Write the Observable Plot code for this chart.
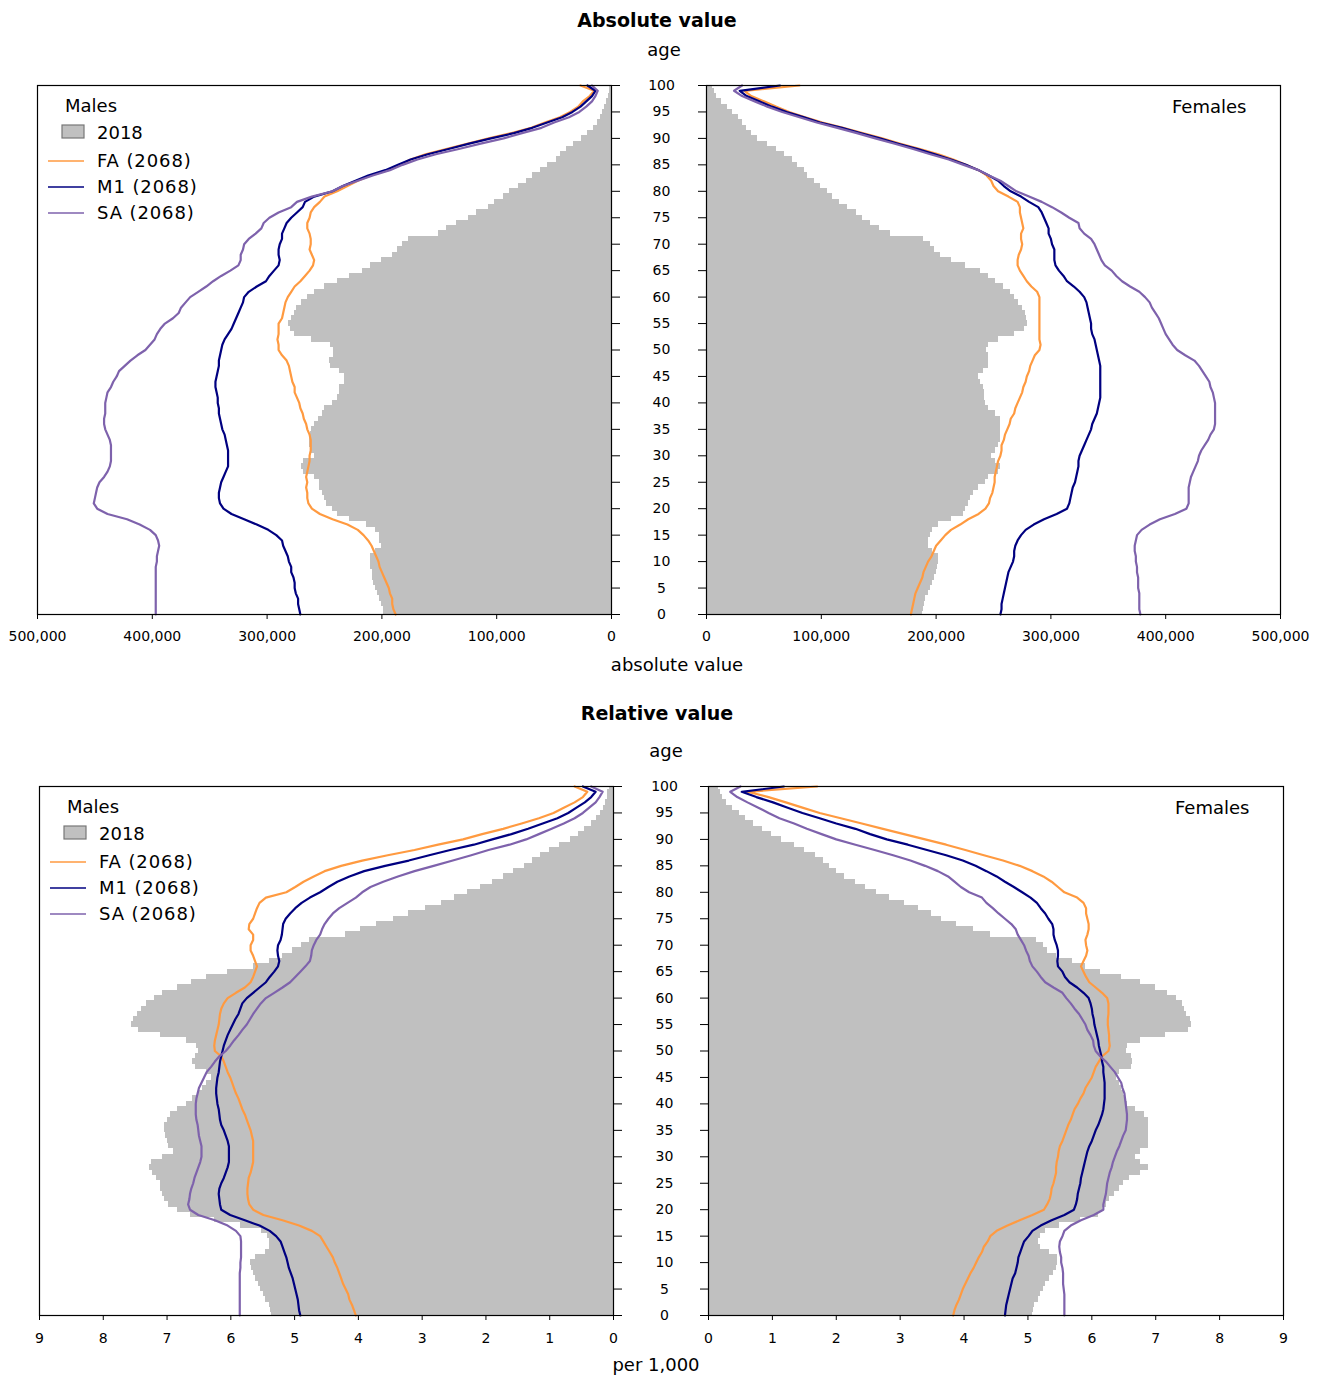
<!DOCTYPE html>
<html><head><meta charset="utf-8">
<script src="https://cdn.jsdelivr.net/npm/d3@7"></script>
<script src="https://cdn.jsdelivr.net/npm/@observablehq/plot@0.6"></script>
<style>
body{margin:0;background:#fff;}
#root{position:relative;width:1321px;height:1378px;font-family:'DejaVu Sans',Verdana,sans-serif;}
.panel{position:absolute;}
#overlay{position:absolute;left:0;top:0;pointer-events:none;}
</style></head>
<body><div id="root"></div>
<script>
// ---------- categories & ticks ----------
const ages = [0,1,2,3,4,5,6,7,8,9,10,11,12,13,14,15,16,17,18,19,20,21,22,23,24,25,26,27,28,29,30,31,32,33,34,35,36,37,38,39,40,41,42,43,44,45,46,47,48,49,50,51,52,53,54,55,56,57,58,59,60,61,62,63,64,65,66,67,68,69,70,71,72,73,74,75,76,77,78,79,80,81,82,83,84,85,86,87,88,89,90,91,92,93,94,95,96,97,98,99,100];
const ageTicks = [0,5,10,15,20,25,30,35,40,45,50,55,60,65,70,75,80,85,90,95,100];
const absTicks = [0,100,200,300,400,500]; // thousands
const absTickLabels = ["0","100,000","200,000","300,000","400,000","500,000"];
const relTicks = [0,1,2,3,4,5,6,7,8,9];
const relTickLabels = ["0","1","2","3","4","5","6","7","8","9"];

// ---------- absolute values (thousands), age 0..100 ----------
const males2018Abs = [199,199,200,202,204,206,207,208,208,210,210,210,206,200,202,202,206,213,228,239,243,248,250,252,254,254,259,268,270,268,259,261,263,263,262,261,259,255,252,250,243,239,237,237,233,233,237,245,246,242,242,245,261,276,280,281,279,276,274,270,265,259,250,239,228,217,210,200,191,186,182,177,151,144,135,125,118,107,102,94,89,81,74,69,62,56,48,44,39,33,26,21,16,12,10,8,6,4.4,3,2,2];
const malesFAAbs = [188,190,191,191,193,194,196,198,200,202,203,205,207,209,212,216,221,230,243,254,261,264,265,265,266,265,266,265,264,263,263,262,262,262,263,265,266,268,269,271,272,274,276,276,278,279,280,281,283,287,290,290,291,290,290,290,287,286,285,284,282,279,276,271,267,263,260,259,261,263,262,262,263,265,265,263,262,259,254,250,239,230,221,210,195,184,175,162,144,125,107,87,70,58,45,36,29,25,19,15,27];
const malesM1Abs = [271,272,273,273,275,276,276,277,279,279,281,282,284,286,287,292,299,309,320,331,338,341,342,342,341,340,338,336,334,334,334,334,335,336,337,339,340,341,342,342,343,343,344,345,345,344,343,342,342,341,340,339,337,334,331,329,327,325,323,321,320,316,309,301,298,294,290,289,290,290,289,287,287,285,283,279,274,269,267,259,243,234,223,212,197,186,175,160,142,124,105,85,69,56,43,34,27,22,17,14,21];
const malesSAAbs = [397,397,397,397,397,397,397,397,397,397,396,396,395,394,395,397,402,411,422,439,448,451,450,449,448,446,442,439,437,436,436,436,436,437,439,441,442,442,441,441,441,440,439,436,434,431,429,424,419,413,406,402,398,396,393,389,382,377,375,371,367,360,353,347,340,332,325,323,323,321,320,316,310,305,303,298,290,279,274,261,243,234,221,208,193,182,169,153,133,114,94,78,61,50,37,28,22,17,14,12,17];
const females2018Abs = [188,189,190,191,193,195,197,199,200,201,202,202,197,193,193,195,197,202,213,224,226,228,230,233,237,243,246,254,256,252,248,252,254,256,256,256,256,256,252,246,243,242,242,241,239,237,241,246,246,246,244,246,254,268,277,280,279,278,275,272,268,265,259,252,246,239,226,213,204,199,195,189,160,151,143,136,131,123,116,110,105,99,94,88,85,79,75,68,61,53,44,39,35,31,28,23,18,13,9,6.6,5.5];
const femalesFAAbs = [178,179,180,181,182,184,186,188,189,191,193,196,198,200,204,208,213,221,228,237,243,246,247,249,250,251,251,252,253,254,256,257,257,259,260,262,264,265,268,269,271,273,275,276,278,279,281,282,284,286,290,291,290,290,290,290,290,290,290,290,290,288,283,279,276,273,271,271,272,274,275,274,274,276,275,274,273,273,271,263,254,250,248,244,237,226,215,202,186,169,153,136,119,101,86,72,61,50,39,33,81];
const femalesM1Abs = [256,257,257,258,259,260,261,262,263,265,267,268,268,269,271,274,278,285,294,305,314,316,317,318,319,321,322,323,324,324,325,327,329,331,333,335,336,338,340,341,342,343,343,343,343,343,343,343,342,341,340,339,338,336,335,335,334,333,332,331,329,325,320,314,311,307,304,303,303,303,301,300,298,298,296,294,292,289,281,274,265,259,254,246,237,226,213,199,184,167,151,134,118,99,85,70,57,46,35,29,64];
const femalesSAAbs = [378,377,377,377,377,376,376,376,375,375,374,374,373,373,374,375,379,386,395,408,418,420,420,420,420,421,422,424,426,428,429,431,434,437,439,442,443,443,443,443,443,442,441,439,438,435,432,429,425,417,410,406,403,400,398,396,394,391,388,386,382,377,369,362,357,353,347,344,342,340,338,335,329,325,324,316,309,301,292,281,270,263,256,246,237,224,211,195,180,164,147,131,114,96,81,66,53,42,31,24,31];

// ---------- relative values (per 1,000), age 0..100 ----------
const males2018Rel = [5.36,5.38,5.40,5.45,5.49,5.53,5.57,5.62,5.65,5.67,5.69,5.62,5.45,5.39,5.39,5.42,5.52,5.85,6.25,6.64,6.84,6.97,7.04,7.07,7.10,7.10,7.17,7.23,7.27,7.25,7.07,6.90,6.97,7.00,7.02,7.04,7.04,7.00,6.94,6.84,6.70,6.60,6.51,6.44,6.38,6.31,6.38,6.56,6.60,6.56,6.50,6.54,6.70,7.10,7.45,7.56,7.53,7.46,7.40,7.33,7.20,7.07,6.84,6.61,6.38,6.05,5.65,5.39,5.19,5.03,4.89,4.76,4.20,3.97,3.71,3.45,3.21,2.95,2.69,2.49,2.29,2.09,1.90,1.73,1.57,1.40,1.27,1.14,1.00,0.84,0.68,0.55,0.45,0.35,0.26,0.20,0.15,0.12,0.10,0.09,0.07];
const malesFARel = [4.04,4.07,4.10,4.14,4.16,4.20,4.24,4.27,4.30,4.33,4.37,4.40,4.45,4.50,4.55,4.60,4.73,4.93,5.19,5.49,5.65,5.71,5.73,5.74,5.74,5.73,5.72,5.69,5.67,5.65,5.65,5.65,5.65,5.65,5.67,5.69,5.72,5.75,5.78,5.82,5.85,5.88,5.92,5.95,5.98,6.01,6.05,6.08,6.11,6.15,6.25,6.26,6.25,6.23,6.21,6.19,6.18,6.17,6.15,6.11,6.05,5.92,5.78,5.69,5.65,5.62,5.59,5.62,5.65,5.69,5.69,5.65,5.65,5.72,5.71,5.65,5.62,5.59,5.55,5.45,5.13,4.99,4.86,4.70,4.53,4.27,3.94,3.54,3.12,2.75,2.36,2.06,1.73,1.44,1.17,0.94,0.78,0.61,0.48,0.41,0.61];
const malesM1Rel = [4.91,4.93,4.94,4.95,4.97,4.99,5.01,5.03,5.06,5.09,5.11,5.13,5.16,5.19,5.22,5.29,5.39,5.55,5.78,6.01,6.15,6.17,6.18,6.19,6.18,6.15,6.11,6.08,6.05,6.03,6.03,6.03,6.03,6.05,6.08,6.11,6.15,6.17,6.18,6.19,6.21,6.22,6.23,6.23,6.22,6.21,6.19,6.18,6.17,6.15,6.13,6.11,6.08,6.05,6.01,5.97,5.93,5.88,5.85,5.82,5.75,5.65,5.55,5.45,5.39,5.32,5.26,5.24,5.26,5.27,5.26,5.22,5.20,5.19,5.18,5.14,5.07,4.99,4.89,4.76,4.60,4.47,4.33,4.14,3.91,3.58,3.21,2.89,2.56,2.19,1.90,1.60,1.34,1.11,0.88,0.71,0.58,0.45,0.35,0.28,0.48];
const malesSARel = [5.86,5.86,5.86,5.86,5.86,5.86,5.86,5.86,5.86,5.85,5.85,5.84,5.84,5.84,5.84,5.85,5.92,6.05,6.25,6.51,6.64,6.67,6.65,6.64,6.62,6.59,6.57,6.54,6.51,6.48,6.46,6.46,6.46,6.48,6.50,6.51,6.52,6.54,6.55,6.55,6.55,6.54,6.52,6.50,6.46,6.42,6.38,6.31,6.25,6.18,6.08,6.01,5.95,5.88,5.82,5.75,5.70,5.65,5.59,5.53,5.45,5.32,5.19,5.07,4.99,4.91,4.83,4.76,4.74,4.73,4.70,4.66,4.60,4.57,4.53,4.47,4.40,4.30,4.17,4.04,3.94,3.81,3.61,3.38,3.12,2.82,2.52,2.23,1.96,1.63,1.37,1.17,0.97,0.78,0.61,0.48,0.38,0.28,0.22,0.17,0.35];
const females2018Rel = [5.07,5.08,5.11,5.16,5.20,5.24,5.27,5.34,5.40,5.44,5.47,5.47,5.34,5.20,5.17,5.20,5.27,5.50,5.83,6.10,6.16,6.23,6.28,6.35,6.43,6.49,6.59,6.76,6.88,6.76,6.69,6.76,6.88,6.89,6.89,6.89,6.89,6.89,6.82,6.69,6.56,6.53,6.49,6.46,6.43,6.39,6.43,6.62,6.64,6.62,6.55,6.56,6.76,7.15,7.52,7.56,7.54,7.48,7.45,7.42,7.32,7.19,6.99,6.76,6.46,6.13,5.90,5.70,5.44,5.30,5.24,5.14,4.41,4.15,3.88,3.65,3.49,3.29,3.06,2.83,2.63,2.46,2.30,2.13,2.00,1.90,1.80,1.67,1.51,1.34,1.14,0.98,0.85,0.71,0.58,0.48,0.38,0.28,0.22,0.18,0.15];
const femalesFARel = [3.83,3.85,3.88,3.92,3.95,3.98,4.02,4.06,4.10,4.15,4.19,4.23,4.28,4.31,4.37,4.41,4.51,4.68,4.87,5.07,5.25,5.30,5.34,5.36,5.37,5.40,5.42,5.44,5.44,5.45,5.47,5.48,5.50,5.54,5.57,5.60,5.63,5.67,5.70,5.73,5.78,5.82,5.87,5.90,5.95,6.00,6.03,6.06,6.11,6.16,6.26,6.28,6.27,6.27,6.26,6.25,6.25,6.26,6.26,6.26,6.24,6.16,6.06,5.96,5.91,5.87,5.83,5.87,5.91,5.93,5.91,5.90,5.93,5.95,5.95,5.93,5.91,5.91,5.87,5.77,5.57,5.47,5.37,5.24,5.07,4.87,4.61,4.31,4.02,3.72,3.39,3.06,2.73,2.40,2.07,1.74,1.47,1.21,0.94,0.61,1.70];
const femalesM1Rel = [4.64,4.65,4.66,4.68,4.70,4.72,4.74,4.76,4.80,4.82,4.84,4.85,4.88,4.91,4.94,5.01,5.07,5.20,5.37,5.57,5.72,5.75,5.77,5.78,5.80,5.82,5.83,5.85,5.87,5.89,5.91,5.93,5.96,6.00,6.03,6.06,6.10,6.13,6.16,6.18,6.19,6.20,6.20,6.20,6.20,6.19,6.18,6.18,6.16,6.15,6.13,6.11,6.10,6.08,6.06,6.04,6.03,6.01,6.00,5.98,5.95,5.87,5.77,5.65,5.58,5.54,5.47,5.46,5.47,5.47,5.45,5.42,5.40,5.40,5.38,5.32,5.27,5.20,5.14,5.04,4.91,4.78,4.64,4.51,4.35,4.18,3.98,3.72,3.42,3.12,2.79,2.53,2.30,2.00,1.74,1.47,1.24,1.01,0.75,0.52,1.18];
const femalesSARel = [5.57,5.57,5.57,5.57,5.57,5.56,5.55,5.55,5.55,5.54,5.52,5.52,5.50,5.49,5.50,5.54,5.57,5.67,5.83,6.03,6.18,6.18,6.20,6.22,6.23,6.24,6.26,6.28,6.31,6.33,6.36,6.39,6.43,6.46,6.49,6.53,6.54,6.55,6.55,6.54,6.53,6.52,6.51,6.48,6.46,6.41,6.36,6.29,6.22,6.13,6.06,6.03,6.02,5.98,5.93,5.90,5.85,5.80,5.73,5.67,5.60,5.54,5.40,5.27,5.20,5.14,5.07,5.03,5.01,4.97,4.94,4.89,4.84,4.81,4.74,4.64,4.54,4.45,4.35,4.28,4.08,3.95,3.85,3.75,3.59,3.39,3.16,2.89,2.60,2.30,2.00,1.77,1.54,1.34,1.11,0.94,0.78,0.61,0.45,0.34,0.50];

// ---------- styling ----------
const GRAY = "#c0c0c0", ORANGE = "#ff9a40", NAVY = "#000080", PURPLE = "#7e62ac";
const root = document.getElementById("root");

function table(base, fa, m1, sa) {
  return ages.map((age, i) => ({age, base: base[i], FA: fa[i], M1: m1[i], SA: sa[i]}));
}

function panel({rows, reverse, domain, xTicks, xLabels, width, mL, mR, labels, agePad, left, top, tickPad}) {
  const chart = Plot.plot({
    width, height: 584,
    marginLeft: mL, marginRight: mR, marginTop: 15, marginBottom: 40,
    style: {fontFamily: "'DejaVu Sans', Verdana, sans-serif", fontSize: "14px", background: "transparent", overflow: "visible"},
    x: {domain, reverse, label: null},
    y: {domain: [0, 100], label: null},
    marks: [
      Plot.rectX(rows, {x: "base", y1: d => d.age - 0.5, y2: d => d.age + 0.5, fill: GRAY, shapeRendering: "crispEdges", clip: true}),
      Plot.line(rows, {x: "FA", y: "age", stroke: ORANGE, strokeWidth: 2.2}),
      Plot.line(rows, {x: "M1", y: "age", stroke: NAVY, strokeWidth: 2.2}),
      Plot.line(rows, {x: "SA", y: "age", stroke: PURPLE, strokeWidth: 2.2}),
      Plot.axisX({ticks: xTicks, tickFormat: d => xLabels[xTicks.indexOf(d)], tickSize: 5, tickPadding: tickPad, stroke: "#000", fill: "#000"}),
      labels
        ? Plot.axisY({anchor: "right", ticks: ageTicks, tickSize: 8, tickPadding: agePad, textAnchor: "middle", fill: "#000"})
        : Plot.axisY({anchor: "left", ticks: ageTicks, tickSize: 8, tickFormat: () => ""}),
      Plot.frame({stroke: "#000", strokeWidth: 1.2})
    ]
  });
  chart.classList.add("panel");
  chart.style.left = left + "px";
  chart.style.top = top + "px";
  root.appendChild(chart);
}

// Absolute
panel({rows: table(males2018Abs, malesFAAbs, malesM1Abs, malesSAAbs), reverse: true, domain: [0, 500],
  xTicks: absTicks, xLabels: absTickLabels, width: 700, mL: 37, mR: 89, labels: true, agePad: 42, left: 0, top: 70, tickPad: 12});
panel({rows: table(females2018Abs, femalesFAAbs, femalesM1Abs, femalesSAAbs), reverse: false, domain: [0, 500],
  xTicks: absTicks, xLabels: absTickLabels, width: 641, mL: 26, mR: 41, labels: false, left: 680, top: 70, tickPad: 12});
// Relative
panel({rows: table(males2018Rel, malesFARel, malesM1Rel, malesSARel), reverse: true, domain: [0, 9],
  xTicks: relTicks, xLabels: relTickLabels, width: 700, mL: 39, mR: 87, labels: true, agePad: 43, left: 0, top: 771, tickPad: 13});
panel({rows: table(females2018Rel, femalesFARel, femalesM1Rel, femalesSARel), reverse: false, domain: [0, 9],
  xTicks: relTicks, xLabels: relTickLabels, width: 641, mL: 28, mR: 38, labels: false, left: 680, top: 771, tickPad: 13});

// ---------- titles, axis titles, legends ----------
const NS = "http://www.w3.org/2000/svg";
const ov = document.createElementNS(NS, "svg");
ov.setAttribute("id", "overlay");
ov.setAttribute("width", 1321); ov.setAttribute("height", 1378);
ov.style.fontFamily = "'DejaVu Sans', Verdana, sans-serif";
root.appendChild(ov);
function txt(s, x, y, size, opts = {}) {
  const t = document.createElementNS(NS, "text");
  t.setAttribute("x", x); t.setAttribute("y", y);
  t.setAttribute("font-size", size);
  t.setAttribute("fill", "#000");
  if (opts.anchor) t.setAttribute("text-anchor", opts.anchor);
  if (opts.bold) t.setAttribute("font-weight", "bold");
  if (opts.spacing) t.setAttribute("letter-spacing", opts.spacing);
  t.textContent = s; ov.appendChild(t);
}
function line(x1, x2, y, color) {
  const l = document.createElementNS(NS, "line");
  l.setAttribute("x1", x1); l.setAttribute("x2", x2); l.setAttribute("y1", y); l.setAttribute("y2", y);
  l.setAttribute("stroke", color); l.setAttribute("stroke-width", 1.6); ov.appendChild(l);
}
function box(x, y, w, h) {
  const r = document.createElementNS(NS, "rect");
  r.setAttribute("x", x); r.setAttribute("y", y); r.setAttribute("width", w); r.setAttribute("height", h);
  r.setAttribute("fill", GRAY); r.setAttribute("stroke", "#777"); r.setAttribute("stroke-width", 1.2); ov.appendChild(r);
}
txt("Absolute value", 657, 27, 19, {anchor: "middle", bold: true});
txt("age", 664, 56, 18, {anchor: "middle"});
txt("absolute value", 677, 671, 18, {anchor: "middle"});
txt("Relative value", 657, 720, 19, {anchor: "middle", bold: true});
txt("age", 666, 757, 18, {anchor: "middle"});
txt("per 1,000", 656, 1371, 18, {anchor: "middle"});

const seriesNames = ["FA (2068)", "M1 (2068)", "SA (2068)"];
const seriesColors = [ORANGE, NAVY, PURPLE];
function legend(x0, yMales, sex) {
  txt(sex, x0 + 3, yMales, 18);
  box(x0, yMales + 13, 22, 13);
  txt("2018", x0 + 35, yMales + 27, 18);
  seriesNames.forEach((s, i) => {
    const yl = yMales + 49 + i * 26;
    line(x0 - 14, x0 + 22, yl, seriesColors[i]);
    txt(s, x0 + 35, yl + 6, 18, {spacing: 0.9});
  });
}
legend(62, 112, "Males");
legend(64, 813, "Males");
txt("Females", 1172, 113, 18);
txt("Females", 1175, 814, 18);
</script>
</body></html>
